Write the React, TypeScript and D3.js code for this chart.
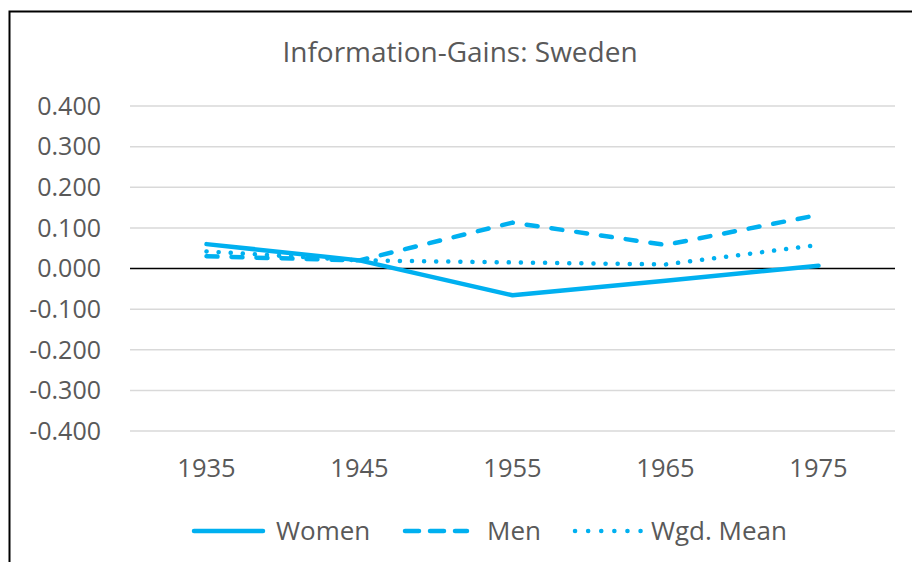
import * as d3 from 'd3'
import React from 'react'

const years = ['1935', '1945', '1955', '1965', '1975']
const women = [0.06, 0.02, -0.066, -0.03, 0.007]
const men = [0.03, 0.02, 0.113, 0.058, 0.132]
const wgdMean = [0.042, 0.02, 0.015, 0.01, 0.058]
const yTicks = [0.4, 0.3, 0.2, 0.1, 0, -0.1, -0.2, -0.3, -0.4]

const series = [
    { name: 'Women', values: women, dash: 'none', legendDash: 'none' },
    { name: 'Men', values: men, dash: '11 14', legendDash: '14 11' },
    { name: 'Wgd. Mean', values: wgdMean, dash: '0.1 12', legendDash: '0.1 13' },
]

const blue = '#00B0F0'
const grey = '#595959'
const font = '"Open Sans", sans-serif'

export default function App() {
    const width = 912, height = 562

    // category scale over the plot area
    const x = d3.scaleBand().domain(years).range([130, 895])
    const y = d3.scaleLinear().domain([-0.4, 0.4]).range([431, 106])

    const line = d3.line<number>()
        .x((d, i) => x(years[i])! + x.bandwidth() / 2)
        .y(d => y(d))

    const legendItems = [
        { x0: 194, x1: 263, tx: 276 },
        { x0: 405, x1: 467, tx: 487 },
        { x0: 575, x1: 641, tx: 651 },
    ]

    return (
        <div style={{ position: 'fixed', left: 0, top: 0 }}>
            <svg width={width} height={height} style={{ display: 'block', background: '#fff' }}>
                <rect x={9.5} y={11.5} width={940} height={600} fill="#fff" stroke="#000" strokeWidth={2} />
                <text x={460} y={62} textAnchor="middle" fontFamily={font} fontSize={28} fill={grey}>
                    Information-Gains: Sweden
                </text>
                {yTicks.map(t => (
                    <g key={t}>
                        {t !== 0 && <line x1={130} x2={895} y1={y(t)} y2={y(t)} stroke="#d9d9d9" strokeWidth={1.5} />}
                        <text x={101} y={y(t)} dy="0.35em" textAnchor="end" fontFamily={font} fontSize={25} fill={grey}>
                            {d3.format('.3f')(t).replace('−', '-')}
                        </text>
                    </g>
                ))}
                <line x1={130} x2={895} y1={y(0)} y2={y(0)} stroke="#000" strokeWidth={1.5} />
                {years.map(yr => (
                    <text key={yr} x={x(yr)! + x.bandwidth() / 2} y={468} dy="0.35em" textAnchor="middle"
                          fontFamily={font} fontSize={25.5} fill={grey}>{yr}</text>
                ))}
                {series.map(s => (
                    <path key={s.name} d={line(s.values)!} fill="none" stroke={blue} strokeWidth={4.5}
                          strokeDasharray={s.dash} strokeLinecap="round" strokeLinejoin="round" />
                ))}
                {series.map((s, i) => (
                    <g key={s.name}>
                        <line x1={legendItems[i].x0} x2={legendItems[i].x1} y1={531} y2={531} stroke={blue}
                              strokeWidth={4.5} strokeDasharray={s.legendDash} strokeLinecap="round" />
                        <text x={legendItems[i].tx} y={531} dy="0.35em" fontFamily={font} fontSize={26} fill={grey}>
                            {s.name}
                        </text>
                    </g>
                ))}
            </svg>
        </div>
    )
}
